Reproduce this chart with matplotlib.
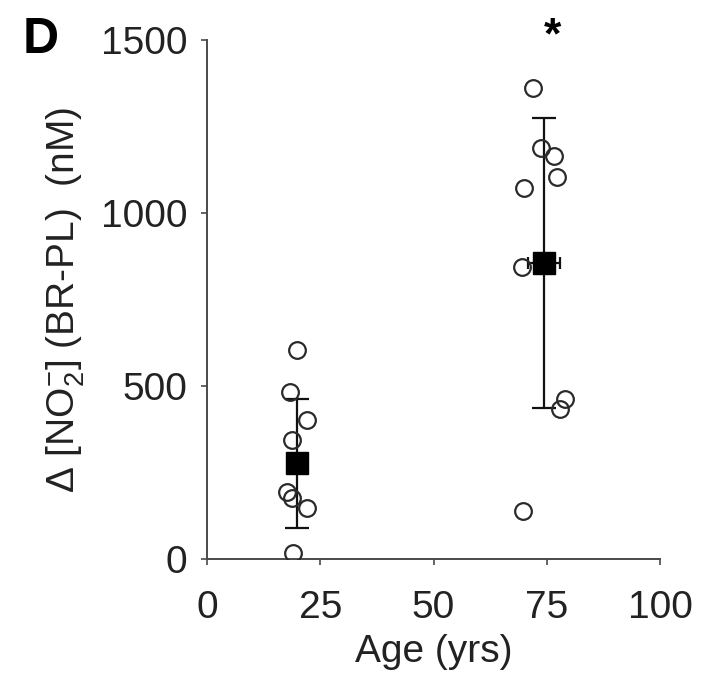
"""Plasma-to-breath nitrite change by age group, panel D."""

import matplotlib.pyplot as plt

plt.rcParams["font.family"] = ["Liberation Sans", "DejaVu Sans"]
plt.rcParams["mathtext.fontset"] = "custom"
plt.rcParams["mathtext.rm"] = "Liberation Sans"
plt.rcParams["mathtext.it"] = "Liberation Sans:italic"

# Individual subjects: age (yrs) and delta nitrite (nM)
young_age = [19.8, 18.3, 22.0, 18.7, 17.6, 18.7, 22.0, 19.0]
young_no2 = [604, 483, 402, 344, 195, 176, 147, 17]
old_age = [71.9, 73.7, 76.5, 77.2, 70.0, 69.5, 79.0, 77.8, 69.8]
old_no2 = [1360, 1187, 1165, 1105, 1071, 845, 461, 433, 140]

# Group means with SD
mean_age = [19.9, 74.4]
mean_no2 = [277, 855]
sd_age = [1.5, 3.5]
sd_no2 = [186, 420]

fig = plt.figure(figsize=(7.03, 6.95), dpi=100)
ax = fig.add_axes([0.2945, 0.1957, 0.6445, 0.7467])

ring = dict(marker="o", markersize=12, markerfacecolor="none",
            markeredgecolor="#2a2a2a", markeredgewidth=1.6, linestyle="none")
ax.plot(young_age, young_no2, **ring, zorder=3)
ax.plot(old_age, old_no2, **ring, zorder=3)

ax.errorbar(mean_age, mean_no2, yerr=sd_no2, fmt="none", ecolor="#111111",
            elinewidth=1.6, capsize=8.6, capthick=1.6, zorder=2)
ax.errorbar(mean_age, mean_no2, xerr=sd_age, fmt="none", ecolor="#111111",
            elinewidth=1.6, capsize=4, capthick=1.6, zorder=2)
ax.plot(mean_age, mean_no2, marker="s", markersize=16, color="black",
        linestyle="none", zorder=4)

# significance marker for the older group
ax.text(mean_age[1] + 1.8, 1510, "*", fontsize=32, fontweight="bold",
        ha="center", va="center", clip_on=False)

ax.set_xlim(0, 100)
ax.set_ylim(0, 1500)
ax.set_xticks([0, 25, 50, 75, 100])
ax.set_yticks([0, 500, 1000, 1500])
for side in ("top", "right"):
    ax.spines[side].set_visible(False)
for side in ("left", "bottom"):
    ax.spines[side].set_color("#4a4a4a")
    ax.spines[side].set_linewidth(1.4)
ax.tick_params(axis="both", labelsize=28, colors="#4a4a4a",
               labelcolor="#222222", width=1.2, length=4)
ax.tick_params(axis="x", pad=18)
ax.tick_params(axis="y", pad=10)

ax.set_xlabel("Age (yrs)", fontsize=28, color="#222222", labelpad=6)
ax.set_ylabel(r"Δ [NO$_2^{-}$] (BR-PL)  (nM)", fontsize=28,
              color="#222222", labelpad=10)

fig.text(0.058, 0.942, "D", fontsize=36, fontweight="bold", ha="center",
         va="center")

fig.savefig("out.png", dpi=100)
